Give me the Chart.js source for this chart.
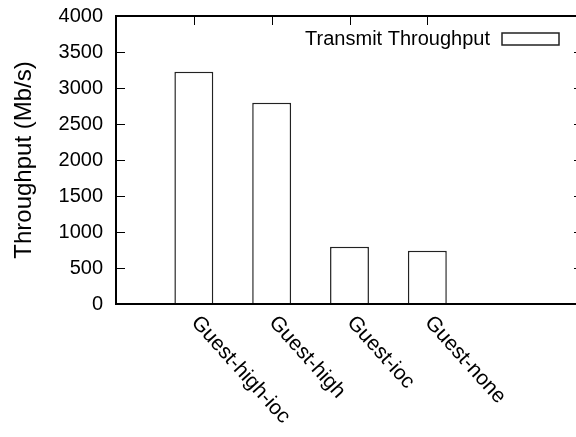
<!DOCTYPE html>
<html>
<head>
<meta charset="utf-8">
<script src="https://cdn.jsdelivr.net/npm/chart.js@4/dist/chart.umd.min.js"></script>
<style>
  html, body { margin: 0; padding: 0; background: #fff; overflow: hidden; }
  #chartThroughput { display: block; }
</style>
</head>
<body>
<canvas id="chartThroughput" width="590" height="437"></canvas>
<script>
// guest configurations and their measured transmit throughput (Mb/s)
const categories = ['Guest-high-ioc', 'Guest-high', 'Guest-ioc', 'Guest-none'];
const transmitThroughput = [3226, 2796, 796, 740];
const yTicks = [0, 500, 1000, 1500, 2000, 2500, 3000, 3500, 4000];
const seriesLabel = 'Transmit Throughput';
const yTitle = 'Throughput (Mb/s)';

const FONT = '"Liberation Sans", Arial, Helvetica, sans-serif';

// gnuplot style frame: box around the plot, ticks pointing inwards, rotated labels
const framePlugin = {
    id: 'frame',
    beforeDatasetsDraw(chart) {
        const ctx = chart.ctx;
        const area = chart.chartArea;
        const x = chart.scales.x;
        ctx.save();
        ctx.strokeStyle = '#000';
        ctx.lineWidth = 1;
        ctx.beginPath();
        categories.forEach((c, i) => {
            const px = Math.round(x.getPixelForValue(i)) + 0.5;
            ctx.moveTo(px, area.bottom);
            ctx.lineTo(px, area.bottom - 9);
        });
        ctx.stroke();
        ctx.restore();
    },
    afterDatasetsDraw(chart) {
        const ctx = chart.ctx;
        const area = chart.chartArea;
        const x = chart.scales.x;
        const y = chart.scales.y;
        ctx.save();
        ctx.strokeStyle = '#000';
        ctx.lineWidth = 1;
        ctx.beginPath();
        yTicks.forEach(v => {
            const py = Math.round(y.getPixelForValue(v)) + 0.5;
            ctx.moveTo(area.left, py);
            ctx.lineTo(area.left + 9, py);
            ctx.moveTo(area.right, py);
            ctx.lineTo(area.right - 9, py);
        });
        categories.forEach((c, i) => {
            const px = Math.round(x.getPixelForValue(i)) + 0.5;
            ctx.moveTo(px, area.top);
            ctx.lineTo(px, area.top + 9);
        });
        ctx.stroke();

        ctx.lineWidth = 2;
        ctx.strokeRect(area.left, area.top, area.right - area.left, area.bottom - area.top);

        // category labels, rotated downwards
        ctx.fillStyle = '#000';
        ctx.font = '21px ' + FONT;
        ctx.textAlign = 'left';
        ctx.textBaseline = 'middle';
        categories.forEach((c, i) => {
            ctx.save();
            ctx.translate(x.getPixelForValue(i) + 1, area.bottom + 15);
            ctx.rotate(48 * Math.PI / 180);
            ctx.fillText(c, 0, 0);
            ctx.restore();
        });

        // key in the top right corner
        const ds = chart.data.datasets[0];
        ctx.font = '20px ' + FONT;
        ctx.textAlign = 'right';
        ctx.textBaseline = 'alphabetic';
        ctx.fillText(ds.label, 490, 45);
        ctx.lineWidth = 1.5;
        ctx.strokeStyle = '#222';
        ctx.fillStyle = '#fff';
        ctx.fillRect(502, 33, 57, 12);
        ctx.strokeRect(502, 33, 57, 12);
        ctx.restore();
    }
};

const ctx = document.getElementById('chartThroughput').getContext('2d');
const myChart = new Chart(ctx, {
    type: 'bar',
    data: {
        datasets: [{
            label: seriesLabel,
            data: categories.map((c, i) => ({ x: i, y: transmitThroughput[i] })),
            backgroundColor: '#fff',
            borderColor: '#222',
            borderWidth: 1.5,
            categoryPercentage: 1,
            barPercentage: 0.5
        }]
    },
    options: {
        responsive: false,
        animation: false,
        devicePixelRatio: 1,
        layout: { padding: { top: 16, right: 7, left: 0, bottom: 0 } },
        plugins: {
            legend: { display: false },
            tooltip: { enabled: false }
        },
        scales: {
            x: {
                type: 'linear',
                offset: false,
                min: -1,
                max: 5,
                ticks: { display: false, stepSize: 1 },
                grid: { display: false, drawTicks: false },
                border: { display: false },
                afterFit(scale) {
                    scale.height = 133;
                    scale.paddingLeft = 0;
                    scale.paddingRight = 0;
                }
            },
            y: {
                min: 0,
                max: 4000,
                afterBuildTicks(scale) { scale.ticks = yTicks.map(v => ({ value: v })); },
                ticks: {
                    color: '#000',
                    padding: 13,
                    font: { family: FONT, size: 20 },
                    callback: v => String(v)
                },
                grid: { display: false, drawTicks: false },
                border: { display: false },
                title: {
                    display: true,
                    text: yTitle,
                    color: '#000',
                    padding: { top: 10, bottom: 0 },
                    font: { family: FONT, size: 24 }
                },
                afterFit(scale) {
                    scale.width = 116;
                    scale.paddingTop = 0;
                    scale.paddingBottom = 0;
                }
            }
        }
    },
    plugins: [framePlugin]
});
</script>
</body>
</html>
